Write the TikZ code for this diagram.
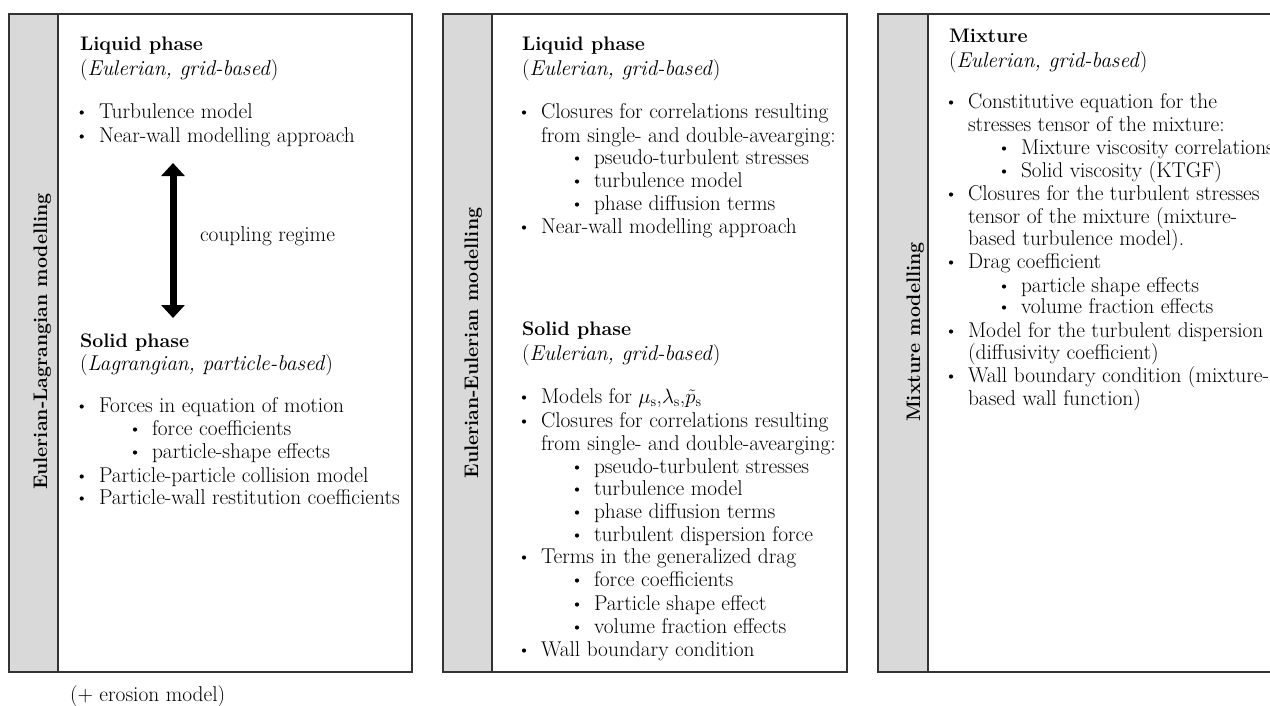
\documentclass[tikz,border=0pt]{standalone}
\usetikzlibrary{arrows.meta}
\definecolor{bordc}{HTML}{333333}
\definecolor{stripc}{HTML}{D9D9D9}
\tikzset{
  txt/.style={anchor=base west, inner sep=0pt, outer sep=0pt, font=\fontsize{21.4}{25}\selectfont, text=black},
  hdr/.style={txt, font=\fontsize{19.6}{23.5}\selectfont\bfseries},
  side/.style={anchor=base, rotate=90, inner sep=0pt, font=\fontsize{19.6}{23.5}\selectfont\bfseries},
  dot/.style={circle, fill=black, inner sep=0pt, minimum size=4.2pt},
  panel/.style={draw=bordc, line width=1.8pt},
  strip/.style={draw=bordc, fill=stripc, line width=1.8pt},
  bigarrow/.style={line width=7pt, {Triangle[length=13pt,width=23pt]}-{Triangle[length=13pt,width=23pt]}}
}
% text line: name, x, y(baseline), text
\newcommand\tl[4]{\node[txt] (#1) at (#2,#3) {#4};}
% bullet line: name, bullet centre x, text x, y(baseline), text
\newcommand\bl[5]{\node[dot] (#1b) at (#2,{#4-5.5}) {}; \node[txt] (#1) at (#3,#4) {#5};}
\begin{document}
\begin{tikzpicture}[x=1pt,y=-1pt]
\useasboundingbox (0,0) rectangle (1270,705);
\clip (0,0) rectangle (1270,705);

% ---------- Panel 1: Eulerian-Lagrangian ----------
\draw[panel] (9,14) rectangle (412,672);
\draw[strip] (9,14) rectangle (58,672);
\node[side] (lab1) at (47,341.5) {Eulerian-Lagrangian modelling};

\node[hdr] (p1h1) at (80,50) {Liquid phase};
\tl{p1s1}{80}{75}{(\textit{Eulerian, grid-based})}
\bl{p1a}{81.7}{99}{118}{Turbulence model}
\bl{p1b}{81.7}{99}{142}{Near-wall modelling approach}

\coordinate (arT) at (173,163);
\coordinate (arB) at (173,318);
\draw[bigarrow] (arB) -- (arT);
\tl{coup}{200}{241}{coupling regime}

\node[hdr] (p1h2) at (80,347) {Solid phase};
\tl{p1s2}{80}{370}{(\textit{Lagrangian, particle-based})}
\bl{p1c}{81.7}{99}{412}{Forces in equation of motion}
\bl{p1d}{135}{152}{435}{force coefficients}
\bl{p1e}{135}{152}{458}{particle-shape effects}
\bl{p1f}{81.7}{99}{482}{Particle-particle collision model}
\bl{p1g}{81.7}{99}{504}{Particle-wall restitution coefficients}

\tl{eros}{70}{701}{(+ erosion model)}

% ---------- Panel 2: Eulerian-Eulerian ----------
\draw[panel] (443,14) rectangle (847,672);
\draw[strip] (443,14) rectangle (492,672);
\node[side] (lab2) at (478,343) {Eulerian-Eulerian modelling};

\node[hdr] (p2h1) at (522,50) {Liquid phase};
\tl{p2s1}{522}{75}{(\textit{Eulerian, grid-based})}
\bl{p2a}{524}{541}{118}{Closures for correlations resulting}
\tl{p2a2}{541}{142}{from single- and double-avearging:}
\bl{p2b}{577}{594}{164}{pseudo-turbulent stresses}
\bl{p2c}{577}{594}{187}{turbulence model}
\bl{p2d}{577}{594}{210}{phase diffusion terms}
\bl{p2e}{524}{541}{233}{Near-wall modelling approach}

\node[hdr] (p2h2) at (522,335) {Solid phase};
\tl{p2s2}{522}{360}{(\textit{Eulerian, grid-based})}
\bl{p2f}{524}{541}{403}{Models for $\mu_{\mathrm{s}}$,$\lambda_{\mathrm{s}}$,$\tilde{p}_{\mathrm{s}}$}
\bl{p2g}{524}{541}{427}{Closures for correlations resulting}
\tl{p2g2}{541}{450}{from single- and double-avearging:}
\bl{p2h}{577}{594}{473}{pseudo-turbulent stresses}
\bl{p2i}{577}{594}{495}{turbulence model}
\bl{p2j}{577}{594}{518}{phase diffusion terms}
\bl{p2k}{577}{594}{541}{turbulent dispersion force}
\bl{p2l}{524}{541}{563}{Terms in the generalized drag}
\bl{p2m}{577}{594}{586}{force coefficients}
\bl{p2n}{577}{594}{610}{Particle shape effect}
\bl{p2o}{577}{594}{633}{volume fraction effects}
\bl{p2p}{524}{541}{656}{Wall boundary condition}

% ---------- Panel 3: Mixture ----------
\draw[panel] (878,14) rectangle (1292,672);
\draw[strip] (878,14) rectangle (928,672);
\node[side] (lab3) at (920,332) {Mixture modelling};

\node[hdr] (p3h1) at (949,42) {Mixture};
\tl{p3s1}{949}{67}{(\textit{Eulerian, grid-based})}
\bl{p3a}{951}{968}{108}{Constitutive equation for the}
\tl{p3a2}{968}{131}{stresses tensor of the mixture:}
\bl{p3b}{1004}{1021}{154}{Mixture viscosity correlations}
\bl{p3c}{1004}{1021}{177}{Solid viscosity (KTGF)}
\bl{p3d}{951}{968}{200}{Closures for the turbulent stresses}
\tl{p3d2}{968}{223}{tensor of the mixture (mixture-}
\tl{p3d3}{968}{245}{based turbulence model).}
\bl{p3e}{951}{968}{268}{Drag coefficient}
\bl{p3f}{1004}{1021}{292}{particle shape effects}
\bl{p3g}{1004}{1021}{313}{volume fraction effects}
\bl{p3h}{951}{968}{337}{Model for the turbulent dispersion}
\tl{p3h2}{968}{359}{(diffusivity coefficient)}
\bl{p3i}{951}{968}{382}{Wall boundary condition (mixture-}
\tl{p3i2}{968}{405}{based wall function)}
\end{tikzpicture}
\end{document}
